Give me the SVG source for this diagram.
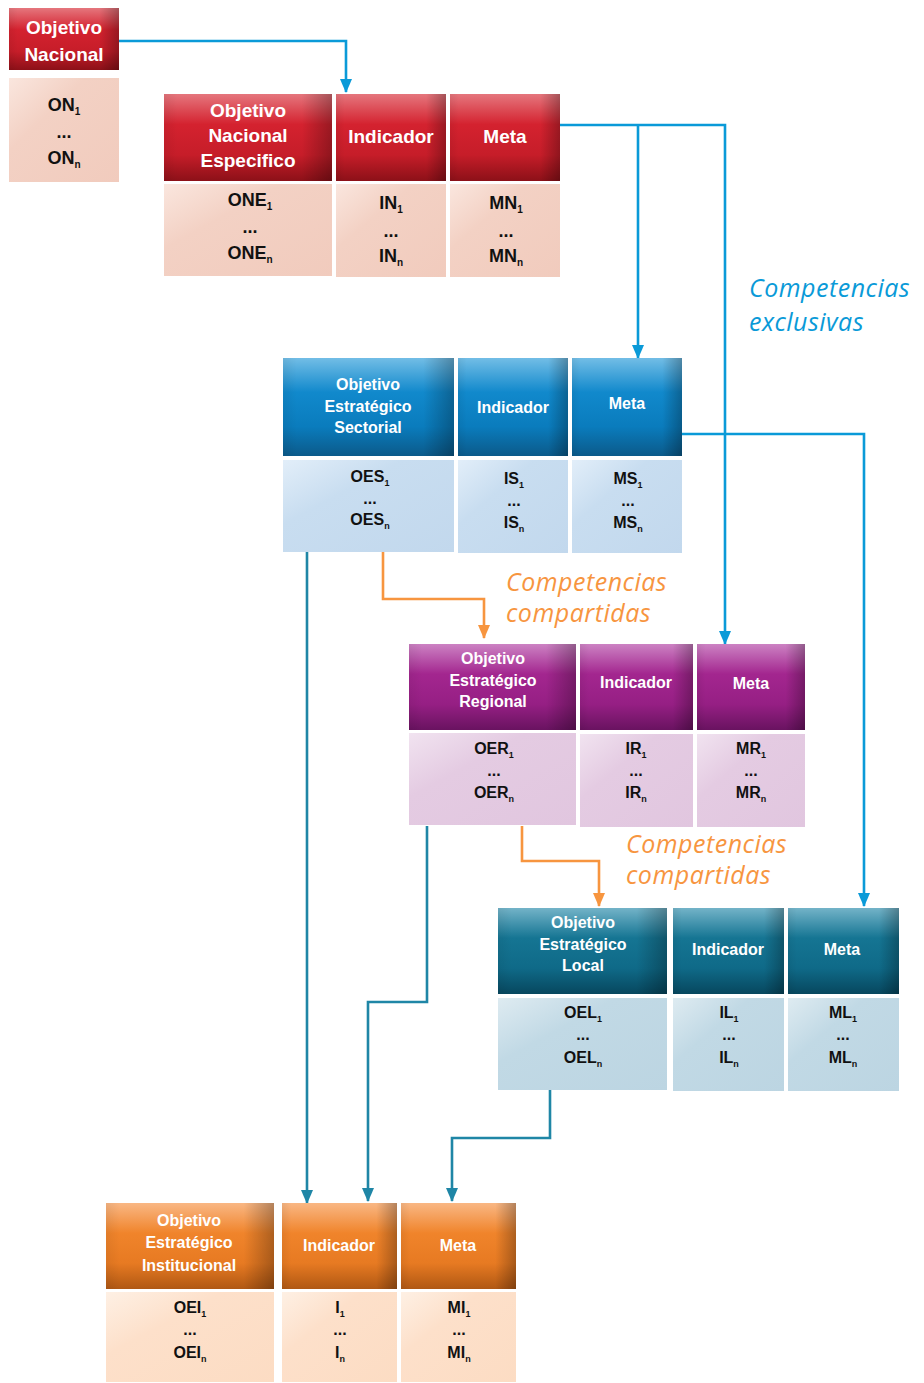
<svg xmlns="http://www.w3.org/2000/svg" width="924" height="1383" viewBox="0 0 924 1383">
<style>
.ht{fill:#fff;font-family:"Liberation Sans",Arial,sans-serif;font-weight:bold;text-anchor:middle}
.h19{font-size:19px}
.h16{font-size:16px}
.bt{fill:#111;font-family:"Liberation Sans",Arial,sans-serif;font-weight:bold;text-anchor:middle}
.b18{font-size:18px}
.b16{font-size:16px}
.s18{font-size:10px}
.s16{font-size:9px}
.lab{font-family:"Open Sans","Liberation Sans",sans-serif;font-style:italic;font-size:25px;letter-spacing:0.5px}
.conn{fill:none;stroke-width:2.6}
.cb{stroke:#0a9ad8}
.ct{stroke:#1f86a6}
.co{stroke:#f7953f}
</style>
<defs>
<linearGradient id="gR" x1="0" y1="0" x2="0" y2="1"><stop offset="0" stop-color="#e5767d"/><stop offset="0.35" stop-color="#d4222f"/><stop offset="0.7" stop-color="#c61d29"/><stop offset="1" stop-color="#8c1018"/></linearGradient>
<linearGradient id="gB" x1="0" y1="0" x2="0" y2="1"><stop offset="0" stop-color="#72bde6"/><stop offset="0.35" stop-color="#1189cc"/><stop offset="0.7" stop-color="#0a7cbd"/><stop offset="1" stop-color="#0b5a8a"/></linearGradient>
<linearGradient id="gP" x1="0" y1="0" x2="0" y2="1"><stop offset="0" stop-color="#cc82c3"/><stop offset="0.35" stop-color="#a3268f"/><stop offset="0.7" stop-color="#961f84"/><stop offset="1" stop-color="#691360"/></linearGradient>
<linearGradient id="gT" x1="0" y1="0" x2="0" y2="1"><stop offset="0" stop-color="#73b3c8"/><stop offset="0.35" stop-color="#157593"/><stop offset="0.7" stop-color="#0f6a88"/><stop offset="1" stop-color="#07475e"/></linearGradient>
<linearGradient id="gO" x1="0" y1="0" x2="0" y2="1"><stop offset="0" stop-color="#f9b784"/><stop offset="0.35" stop-color="#f0842b"/><stop offset="0.7" stop-color="#e77a22"/><stop offset="1" stop-color="#b05814"/></linearGradient>
<linearGradient id="shade" x1="0" y1="0" x2="1" y2="0"><stop offset="0" stop-color="#000" stop-opacity="0.06"/><stop offset="0.08" stop-color="#000" stop-opacity="0"/><stop offset="0.82" stop-color="#000" stop-opacity="0"/><stop offset="1" stop-color="#000" stop-opacity="0.28"/></linearGradient>
<linearGradient id="bR" x1="0" y1="0" x2="1" y2="1"><stop offset="0" stop-color="#fae6de"/><stop offset="0.35" stop-color="#f3d1c4"/><stop offset="1" stop-color="#f1cbbd"/></linearGradient>
<linearGradient id="bB" x1="0" y1="0" x2="1" y2="1"><stop offset="0" stop-color="#e2eef9"/><stop offset="0.35" stop-color="#c8ddf0"/><stop offset="1" stop-color="#c2d8ed"/></linearGradient>
<linearGradient id="bP" x1="0" y1="0" x2="1" y2="1"><stop offset="0" stop-color="#f1e3f0"/><stop offset="0.35" stop-color="#e4cbe2"/><stop offset="1" stop-color="#e1c6df"/></linearGradient>
<linearGradient id="bT" x1="0" y1="0" x2="1" y2="1"><stop offset="0" stop-color="#deebf1"/><stop offset="0.35" stop-color="#c1d9e5"/><stop offset="1" stop-color="#bcd5e2"/></linearGradient>
<linearGradient id="bO" x1="0" y1="0" x2="1" y2="1"><stop offset="0" stop-color="#fef0e4"/><stop offset="0.35" stop-color="#fde0ca"/><stop offset="1" stop-color="#fcdcc3"/></linearGradient>
<marker id="aB" viewBox="0 0 14 12" refX="13" refY="6" markerWidth="14" markerHeight="12" markerUnits="userSpaceOnUse" orient="auto"><path d="M0,0 L14,6 L0,12 z" fill="#0a9ad8"/></marker>
<marker id="aT" viewBox="0 0 14 12" refX="13" refY="6" markerWidth="14" markerHeight="12" markerUnits="userSpaceOnUse" orient="auto"><path d="M0,0 L14,6 L0,12 z" fill="#1f86a6"/></marker>
<marker id="aO" viewBox="0 0 14 12" refX="13" refY="6" markerWidth="14" markerHeight="12" markerUnits="userSpaceOnUse" orient="auto"><path d="M0,0 L14,6 L0,12 z" fill="#f7953f"/></marker>
</defs>
<rect width="924" height="1383" fill="#fff"/>

<g id="connectors">
<path class="conn cb" d="M119,41 H346 V92" marker-end="url(#aB)"/>
<path class="conn cb" d="M560,125 H725 V644" marker-end="url(#aB)"/>
<path class="conn cb" d="M638,125 V358" marker-end="url(#aB)"/>
<path class="conn cb" d="M682,434 H864 V906" marker-end="url(#aB)"/>
<path class="conn ct" d="M307,552 V1203" marker-end="url(#aT)"/>
<path class="conn ct" d="M427,826 V1002 H368 V1201" marker-end="url(#aT)"/>
<path class="conn ct" d="M550,1090 V1138 H452 V1201" marker-end="url(#aT)"/>
<path class="conn co" d="M383,552 V599 H484 V638" marker-end="url(#aO)"/>
<path class="conn co" d="M522,826 V861 H599 V906" marker-end="url(#aO)"/>
</g>

<g id="on">
<rect x="9" y="8" width="110" height="62" fill="url(#gR)"/><rect x="9" y="8" width="110" height="62" fill="url(#shade)"/>
<text class="ht h19" x="64" y="34">Objetivo</text><text class="ht h19" x="64" y="61">Nacional</text>
<rect x="9" y="78" width="110" height="104" fill="url(#bR)"/>
<text class="bt b18" x="64" y="111">ON<tspan class="s18" dy="4">1</tspan></text>
<text class="bt b18" x="64" y="138">...</text>
<text class="bt b18" x="64" y="164">ON<tspan class="s18" dy="4">n</tspan></text>
</g>

<g id="one">
<rect x="164" y="94" width="168" height="87" fill="url(#gR)"/><rect x="164" y="94" width="168" height="87" fill="url(#shade)"/>
<text class="ht h19" x="248" y="117">Objetivo</text><text class="ht h19" x="248" y="142">Nacional</text><text class="ht h19" x="248" y="167">Especifico</text>
<rect x="164" y="184" width="168" height="92" fill="url(#bR)"/>
<text class="bt b18" x="250" y="206">ONE<tspan class="s18" dy="4">1</tspan></text>
<text class="bt b18" x="250" y="233">...</text>
<text class="bt b18" x="250" y="259">ONE<tspan class="s18" dy="4">n</tspan></text>
</g>
<g id="in">
<rect x="336" y="94" width="110" height="87" fill="url(#gR)"/><rect x="336" y="94" width="110" height="87" fill="url(#shade)"/>
<text class="ht h19" x="391" y="143">Indicador</text>
<rect x="336" y="184" width="110" height="93" fill="url(#bR)"/>
<text class="bt b18" x="391" y="209">IN<tspan class="s18" dy="4">1</tspan></text>
<text class="bt b18" x="391" y="237">...</text>
<text class="bt b18" x="391" y="262">IN<tspan class="s18" dy="4">n</tspan></text>
</g>
<g id="mn">
<rect x="450" y="94" width="110" height="87" fill="url(#gR)"/><rect x="450" y="94" width="110" height="87" fill="url(#shade)"/>
<text class="ht h19" x="505" y="143">Meta</text>
<rect x="450" y="184" width="110" height="93" fill="url(#bR)"/>
<text class="bt b18" x="506" y="209">MN<tspan class="s18" dy="4">1</tspan></text>
<text class="bt b18" x="506" y="237">...</text>
<text class="bt b18" x="506" y="262">MN<tspan class="s18" dy="4">n</tspan></text>
</g>

<g id="oes">
<rect x="283" y="358" width="171" height="98" fill="url(#gB)"/><rect x="283" y="358" width="171" height="98" fill="url(#shade)"/>
<text class="ht h16" x="368" y="390">Objetivo</text><text class="ht h16" x="368" y="412">Estratégico</text><text class="ht h16" x="368" y="433">Sectorial</text>
<rect x="283" y="460" width="171" height="92" fill="url(#bB)"/>
<text class="bt b16" x="370" y="482">OES<tspan class="s16" dy="4">1</tspan></text>
<text class="bt b16" x="370" y="504">...</text>
<text class="bt b16" x="370" y="525">OES<tspan class="s16" dy="4">n</tspan></text>
</g>
<g id="is">
<rect x="458" y="358" width="110" height="98" fill="url(#gB)"/><rect x="458" y="358" width="110" height="98" fill="url(#shade)"/>
<text class="ht h16" x="513" y="413">Indicador</text>
<rect x="458" y="460" width="110" height="93" fill="url(#bB)"/>
<text class="bt b16" x="514" y="484">IS<tspan class="s16" dy="4">1</tspan></text>
<text class="bt b16" x="514" y="506">...</text>
<text class="bt b16" x="514" y="528">IS<tspan class="s16" dy="4">n</tspan></text>
</g>
<g id="ms">
<rect x="572" y="358" width="110" height="98" fill="url(#gB)"/><rect x="572" y="358" width="110" height="98" fill="url(#shade)"/>
<text class="ht h16" x="627" y="409">Meta</text>
<rect x="572" y="460" width="110" height="93" fill="url(#bB)"/>
<text class="bt b16" x="628" y="484">MS<tspan class="s16" dy="4">1</tspan></text>
<text class="bt b16" x="628" y="506">...</text>
<text class="bt b16" x="628" y="528">MS<tspan class="s16" dy="4">n</tspan></text>
</g>

<g id="oer">
<rect x="409" y="644" width="167" height="86" fill="url(#gP)"/><rect x="409" y="644" width="167" height="86" fill="url(#shade)"/>
<text class="ht h16" x="493" y="664">Objetivo</text><text class="ht h16" x="493" y="686">Estratégico</text><text class="ht h16" x="493" y="707">Regional</text>
<rect x="409" y="733" width="167" height="92" fill="url(#bP)"/>
<text class="bt b16" x="494" y="754">OER<tspan class="s16" dy="4">1</tspan></text>
<text class="bt b16" x="494" y="776">...</text>
<text class="bt b16" x="494" y="798">OER<tspan class="s16" dy="4">n</tspan></text>
</g>
<g id="ir">
<rect x="580" y="644" width="113" height="86" fill="url(#gP)"/><rect x="580" y="644" width="113" height="86" fill="url(#shade)"/>
<text class="ht h16" x="636" y="688">Indicador</text>
<rect x="580" y="734" width="113" height="93" fill="url(#bP)"/>
<text class="bt b16" x="636" y="754">IR<tspan class="s16" dy="4">1</tspan></text>
<text class="bt b16" x="636" y="776">...</text>
<text class="bt b16" x="636" y="798">IR<tspan class="s16" dy="4">n</tspan></text>
</g>
<g id="mr">
<rect x="697" y="644" width="108" height="86" fill="url(#gP)"/><rect x="697" y="644" width="108" height="86" fill="url(#shade)"/>
<text class="ht h16" x="751" y="689">Meta</text>
<rect x="697" y="734" width="108" height="93" fill="url(#bP)"/>
<text class="bt b16" x="751" y="754">MR<tspan class="s16" dy="4">1</tspan></text>
<text class="bt b16" x="751" y="776">...</text>
<text class="bt b16" x="751" y="798">MR<tspan class="s16" dy="4">n</tspan></text>
</g>

<g id="oel">
<rect x="498" y="908" width="169" height="86" fill="url(#gT)"/><rect x="498" y="908" width="169" height="86" fill="url(#shade)"/>
<text class="ht h16" x="583" y="928">Objetivo</text><text class="ht h16" x="583" y="950">Estratégico</text><text class="ht h16" x="583" y="971">Local</text>
<rect x="498" y="998" width="169" height="92" fill="url(#bT)"/>
<text class="bt b16" x="583" y="1018">OEL<tspan class="s16" dy="4">1</tspan></text>
<text class="bt b16" x="583" y="1040">...</text>
<text class="bt b16" x="583" y="1063">OEL<tspan class="s16" dy="4">n</tspan></text>
</g>
<g id="il">
<rect x="673" y="908" width="111" height="86" fill="url(#gT)"/><rect x="673" y="908" width="111" height="86" fill="url(#shade)"/>
<text class="ht h16" x="728" y="955">Indicador</text>
<rect x="673" y="998" width="111" height="93" fill="url(#bT)"/>
<text class="bt b16" x="729" y="1018">IL<tspan class="s16" dy="4">1</tspan></text>
<text class="bt b16" x="729" y="1040">...</text>
<text class="bt b16" x="729" y="1063">IL<tspan class="s16" dy="4">n</tspan></text>
</g>
<g id="ml">
<rect x="788" y="908" width="111" height="86" fill="url(#gT)"/><rect x="788" y="908" width="111" height="86" fill="url(#shade)"/>
<text class="ht h16" x="842" y="955">Meta</text>
<rect x="788" y="998" width="111" height="93" fill="url(#bT)"/>
<text class="bt b16" x="843" y="1018">ML<tspan class="s16" dy="4">1</tspan></text>
<text class="bt b16" x="843" y="1040">...</text>
<text class="bt b16" x="843" y="1063">ML<tspan class="s16" dy="4">n</tspan></text>
</g>

<g id="oei">
<rect x="106" y="1203" width="168" height="86" fill="url(#gO)"/><rect x="106" y="1203" width="168" height="86" fill="url(#shade)"/>
<text class="ht h16" x="189" y="1226">Objetivo</text><text class="ht h16" x="189" y="1248">Estratégico</text><text class="ht h16" x="189" y="1271">Institucional</text>
<rect x="106" y="1292" width="168" height="90" fill="url(#bO)"/>
<text class="bt b16" x="190" y="1313">OEI<tspan class="s16" dy="4">1</tspan></text>
<text class="bt b16" x="190" y="1335">...</text>
<text class="bt b16" x="190" y="1358">OEI<tspan class="s16" dy="4">n</tspan></text>
</g>
<g id="ii">
<rect x="282" y="1203" width="115" height="86" fill="url(#gO)"/><rect x="282" y="1203" width="115" height="86" fill="url(#shade)"/>
<text class="ht h16" x="339" y="1251">Indicador</text>
<rect x="282" y="1292" width="115" height="90" fill="url(#bO)"/>
<text class="bt b16" x="340" y="1313">I<tspan class="s16" dy="4">1</tspan></text>
<text class="bt b16" x="340" y="1335">...</text>
<text class="bt b16" x="340" y="1358">I<tspan class="s16" dy="4">n</tspan></text>
</g>
<g id="mi">
<rect x="401" y="1203" width="115" height="86" fill="url(#gO)"/><rect x="401" y="1203" width="115" height="86" fill="url(#shade)"/>
<text class="ht h16" x="458" y="1251">Meta</text>
<rect x="401" y="1292" width="115" height="90" fill="url(#bO)"/>
<text class="bt b16" x="459" y="1313">MI<tspan class="s16" dy="4">1</tspan></text>
<text class="bt b16" x="459" y="1335">...</text>
<text class="bt b16" x="459" y="1358">MI<tspan class="s16" dy="4">n</tspan></text>
</g>

<g id="labels">
<text class="lab" fill="#0a9ad8" x="749" y="297">Competencias</text>
<text class="lab" fill="#0a9ad8" x="749" y="331">exclusivas</text>
<text class="lab" fill="#f7953f" x="506" y="591">Competencias</text>
<text class="lab" fill="#f7953f" x="506" y="622">compartidas</text>
<text class="lab" fill="#f7953f" x="626" y="853">Competencias</text>
<text class="lab" fill="#f7953f" x="626" y="884">compartidas</text>
</g>
</svg>
